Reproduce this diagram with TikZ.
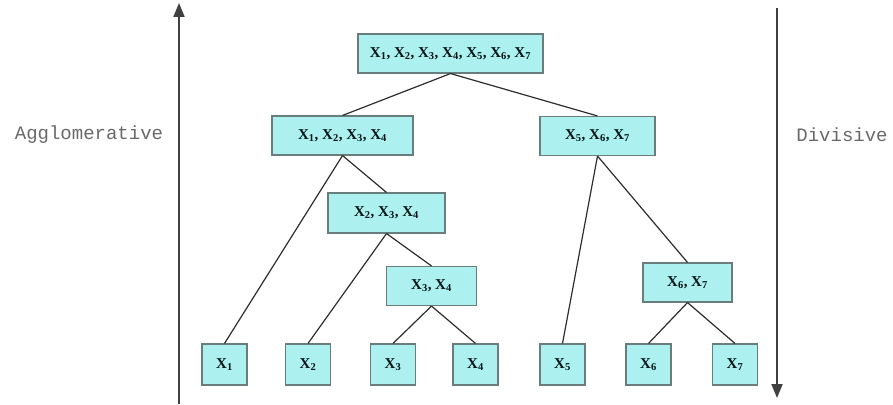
\documentclass[tikz,border=0pt]{standalone}
\usepackage{fontspec}
\setmainfont{Liberation Serif}
\newfontfamily\labelfont{Liberation Mono}
\usetikzlibrary{arrows.meta}
\definecolor{boxfill}{RGB}{172,240,240}
\definecolor{boxedge}{RGB}{105,125,125}
\definecolor{edgecol}{RGB}{45,45,45}
\definecolor{sidetext}{RGB}{105,105,105}
\begin{document}
\begin{tikzpicture}[x=1pt,y=-1pt,
  cluster/.style={draw=boxedge, line width=1.1pt, fill=boxfill, inner sep=0pt,
    minimum height=39pt, font=\fontsize{15}{15}\selectfont\bfseries, text=black!85!teal},
  link/.style={draw=edgecol, line width=1.2pt},
  axis/.style={draw=black!75, line width=2pt, -{Triangle[width=11pt,length=14pt]}},
  side/.style={font=\labelfont\fontsize{19}{19}\selectfont, text=sidetext}]
\useasboundingbox (0,0) rectangle (893,404);

% clusters
\node[cluster, minimum width=185pt] (all) at (450.5,53.5)
  {X\textsubscript{1}, X\textsubscript{2}, X\textsubscript{3}, X\textsubscript{4}, X\textsubscript{5}, X\textsubscript{6}, X\textsubscript{7}};
\node[cluster, minimum width=141pt] (a) at (342.5,135.5)
  {X\textsubscript{1}, X\textsubscript{2}, X\textsubscript{3}, X\textsubscript{4}};
\node[cluster, minimum width=115pt] (b) at (597.5,136)
  {X\textsubscript{5}, X\textsubscript{6}, X\textsubscript{7}};
\node[cluster, minimum width=117pt, minimum height=40pt] (c) at (386.5,213)
  {X\textsubscript{2}, X\textsubscript{3}, X\textsubscript{4}};
\node[cluster, minimum width=90pt] (d) at (431.5,286)
  {X\textsubscript{3}, X\textsubscript{4}};
\node[cluster, minimum width=89pt] (e) at (687.5,282.5)
  {X\textsubscript{6}, X\textsubscript{7}};

% leaves
\foreach \n/\x in {1/224.5,2/308,3/393,4/475.5,5/562.5,6/648.5,7/735}
  \node[cluster, minimum width=45pt, minimum height=41pt] (x\n) at (\x,364.5) {X\textsubscript{\n}};

% tree edges
\draw[link] (all.south) -- (a.north);
\draw[link] (all.south) -- (b.north);
\draw[link] (a.south) -- (x1.north);
\draw[link] (a.south) -- (c.north);
\draw[link] (c.south) -- (x2.north);
\draw[link] (c.south) -- (d.north);
\draw[link] (d.south) -- (x3.north);
\draw[link] (d.south) -- (x4.north);
\draw[link] (b.south) -- (x5.north);
\draw[link] (b.south) -- (e.north);
\draw[link] (e.south) -- (x6.north);
\draw[link] (e.south) -- (x7.north);

% direction arrows
\coordinate (upfoot) at (179,404);
\coordinate (uphead) at (179,3);
\coordinate (downfoot) at (777,8);
\coordinate (downhead) at (777,398);
\draw[axis] (upfoot) -- (uphead);
\draw[axis] (downfoot) -- (downhead);

\node[side] (agg) at (89,135) {Agglomerative};
\node[side] (div) at (842,135) {Divisive};
\end{tikzpicture}
\end{document}
